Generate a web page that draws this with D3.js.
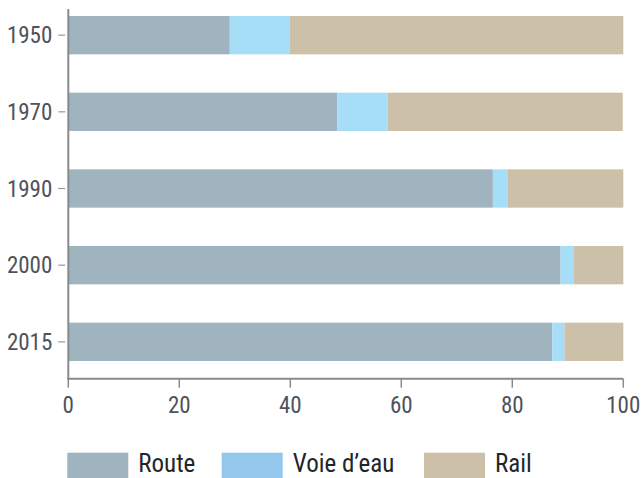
<!DOCTYPE html>
<html><head><meta charset="utf-8">
<script src="https://cdn.jsdelivr.net/npm/d3@7"></script>
<style>
html,body{margin:0;padding:0;background:#fff;}
svg{display:block;}
text{font-family:"Liberation Sans Narrow","Arial Narrow","Roboto Condensed",sans-serif;}
</style></head>
<body>
<svg id="chart" width="643" height="478"></svg>
<script>
const years = ["1950","1970","1990","2000","2015"];
const seriesNames = ["Route","Voie d\u2019eau","Rail"];
const route = [29.1, 48.5, 76.5, 88.7, 87.2];
const voie  = [10.8, 9.0, 2.7, 2.4, 2.2];
const rail  = [60.1, 42.4, 20.8, 8.9, 10.6];
const xTicks = [0,20,40,60,80,100];

const barColors = ["#9fb4be","#a6ddf7","#cdc0a9"];
const legendColors = ["#9fb4be","#93c8ec","#cdc0a9"];

const svg = d3.select("#chart");
const x = d3.scaleLinear().domain([0,100]).range([68.3,623.3]);
const y = d3.scaleBand().domain(years).range([-3.17,380.17]).paddingInner(0.5).paddingOuter(0.25);

const rows = years.map((yr,i)=>({year:yr, Route:route[i], Voie:voie[i], Rail:rail[i]}));
const stack = d3.stack().keys(["Route","Voie","Rail"])(rows);

svg.append("g").selectAll("g").data(stack).join("g")
  .attr("fill",(d,i)=>barColors[i])
  .selectAll("rect").data(d=>d).join("rect")
  .attr("x",d=>x(d[0]))
  .attr("y",d=>y(d.data.year))
  .attr("width",d=>x(d[1])-x(d[0]))
  .attr("height",y.bandwidth());

// Y axis
const yAxis = svg.append("g").attr("transform","translate(68.3,0)");
yAxis.append("line").attr("x1",0).attr("x2",0).attr("y1",9).attr("y2",379.5)
  .attr("stroke","#8a8a8a").attr("stroke-width",2);
yAxis.selectAll("line.tk").data(years).join("line").attr("class","tk")
  .attr("x1",-10).attr("x2",-3)
  .attr("y1",d=>y(d)+y.bandwidth()/2).attr("y2",d=>y(d)+y.bandwidth()/2)
  .attr("stroke","#9a9a9a").attr("stroke-width",1.2);
yAxis.selectAll("text").data(years).join("text")
  .attr("x",-16).attr("y",d=>y(d)+y.bandwidth()/2)
  .attr("dy","0.36em").attr("text-anchor","end")
  .attr("font-size",23).attr("fill","#4f525a").text(d=>d);

// X axis
const xAxis = svg.append("g").attr("transform","translate(0,378.7)");
xAxis.append("line").attr("x1",x(0)-1).attr("x2",x(100)).attr("y1",0).attr("y2",0)
  .attr("stroke","#8a8a8a").attr("stroke-width",2);
xAxis.selectAll("line.tk").data(xTicks).join("line").attr("class","tk")
  .attr("x1",d=>x(d)).attr("x2",d=>x(d)).attr("y1",0).attr("y2",9)
  .attr("stroke","#8a8a8a").attr("stroke-width",1.5);
xAxis.selectAll("text").data(xTicks).join("text")
  .attr("x",d=>x(d)).attr("y",34).attr("text-anchor","middle")
  .attr("font-size",23).attr("fill","#4f525a").text(d=>d);

// Legend
const legX = [67.3, 221.7, 424];
const lg = svg.append("g");
lg.selectAll("rect").data(seriesNames).join("rect")
  .attr("x",(d,i)=>legX[i]).attr("y",452.7).attr("width",61).attr("height",30)
  .attr("fill",(d,i)=>legendColors[i]);
lg.selectAll("text").data(seriesNames).join("text")
  .attr("x",(d,i)=>legX[i]+71).attr("y",472)
  .attr("font-size",25).attr("fill","#23252b").text(d=>d);
</script>
</body></html>
